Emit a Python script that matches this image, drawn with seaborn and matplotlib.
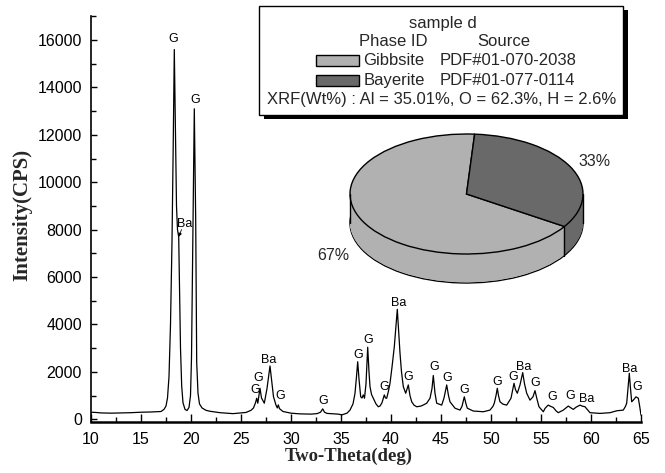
import numpy as np
import pandas as pd
import matplotlib
matplotlib.use("Agg")
import matplotlib.pyplot as plt
from matplotlib.patches import Rectangle
from matplotlib.ticker import MultipleLocator
import seaborn as sns

# Diffraction trace: 2-theta (deg) and intensity (counts per second)
two_theta = [
    10.0, 10.5, 11.0, 12.0, 13.0, 14.0, 15.0, 16.0, 17.0, 17.3, 17.5, 17.65,
    17.8, 17.95, 18.1, 18.22, 18.33, 18.43, 18.55, 18.65, 18.77, 18.85, 18.95,
    19.07, 19.2, 19.4, 19.6, 19.8, 19.95, 20.05, 20.17, 20.33, 20.47, 20.57,
    20.7, 20.85, 21.1, 21.5, 21.9, 22.9, 24.2, 25.5, 26.0, 26.25, 26.45, 26.57,
    26.68, 26.9, 27.05, 27.33, 27.6, 27.9, 28.1, 28.25, 28.5, 28.63, 28.73,
    28.85, 29.2, 30.0, 30.9, 32.0, 32.6, 32.95, 33.17, 33.35, 33.6, 34.7, 35.1,
    35.6, 35.9, 36.2, 36.4, 36.55, 36.67, 36.8, 36.97, 37.1, 37.23, 37.35, 37.5,
    37.67, 37.8, 37.9, 38.05, 38.23, 38.5, 38.73, 38.9, 39.1, 39.33, 39.45,
    39.57, 39.75, 39.9, 40.1, 40.33, 40.63, 40.75, 40.9, 41.05, 41.23, 41.47,
    41.73, 41.9, 42.07, 42.3, 42.57, 43.0, 43.3, 43.57, 43.9, 44.1, 44.23, 44.4,
    44.57, 45.07, 45.3, 45.57, 45.75, 45.9, 46.4, 46.9, 47.1, 47.33, 47.5, 47.63,
    48.23, 49.23, 49.9, 50.2, 50.33, 50.5, 50.63, 50.75, 50.9, 51.2, 51.57, 52.0,
    52.3, 52.45, 52.63, 52.9, 53.17, 53.35, 53.57, 53.9, 54.2, 54.4, 54.6, 54.8,
    55.23, 55.4, 55.6, 55.73, 55.9, 56.23, 56.5, 56.73, 57.23, 57.5, 57.73,
    58.0, 58.23, 58.5, 58.9, 59.1, 59.4, 59.9, 60.9, 61.9, 62.57, 63.23, 63.45,
    63.57, 63.7, 63.83, 63.95, 64.07, 64.23, 64.5, 64.73, 64.85, 65.0,
]
intensity = [
    300, 290, 270, 260, 270, 280, 300, 310, 330, 420, 560, 900,
    1800, 4000, 7500, 11500, 15600, 12600, 9000, 8000, 7700, 5500, 3000,
    1400, 700, 420, 370, 500, 1000, 2600, 7000, 13100, 8400, 2400,
    1100, 650, 480, 380, 340, 280, 240, 290, 380, 480, 700, 890,
    680, 1310, 900, 680, 1300, 2250, 1500, 950, 600, 480, 610,
    450, 330, 260, 230, 220, 240, 300, 440, 300, 250, 220, 190,
    260, 390, 650, 1100, 1800, 2430, 1700, 950, 900, 1030, 890, 1500,
    3040, 2000, 1380, 1050, 890, 650, 530, 560, 700, 1030, 900,
    890, 1200, 1520, 2200, 3060, 4640, 3800, 2790, 2000, 1380, 1100,
    1450, 1000, 740, 600, 530, 560, 620, 680, 890, 1300, 1850, 1100,
    680, 600, 900, 1450, 1000, 740, 470, 390, 550, 950, 650, 470,
    350, 320, 390, 550, 680, 1000, 1310, 1000, 740, 640, 600, 890,
    1520, 1250, 1100, 1450, 1970, 1500, 1100, 810, 950, 1210, 850, 530,
    320, 460, 550, 600, 560, 500, 360, 280, 390, 480, 560,
    480, 420, 510, 600, 560, 530, 280, 250, 280, 360, 390, 550,
    680, 1300, 1940, 1300, 740, 810, 950, 890, 600, 180,
]

# Phase markers above the reflections
label_theta = [18.25, 19.4, 20.4, 26.4, 26.73, 27.8, 28.9, 33.17, 36.67, 37.73,
               39.3, 40.73, 41.73, 44.33, 45.6, 47.3, 50.63, 52.17, 53.23,
               54.4, 56.07, 57.9, 59.57, 63.9, 64.63]
label_intensity = [16050, 8240, 13450, 1240, 1755, 2500, 985, 770, 2710, 3340,
                   1375, 4920, 1795, 2220, 1750, 1240, 1590, 1800, 2195,
                   1545, 955, 985, 845, 2110, 1375]
label_text = ["G", "Ba", "G", "G", "G", "Ba", "G", "G", "G", "G",
              "G", "Ba", "G", "G", "G", "G", "G", "G", "Ba",
              "G", "G", "G", "Ba", "Ba", "G"]
shoulder_theta, shoulder_intensity = 18.77, 7700

# Phase quantification
phases = ["Gibbsite", "Bayerite"]
sources = ["PDF#01-070-2038", "PDF#01-077-0114"]
phase_share = [67, 33]
phase_colors = ["#b1b1b1", "#696969"]
elements = ["Al", "O", "H"]
element_wt = [35.01, 62.3, 2.6]

sns.set_theme(style="ticks")
plt.rcParams["font.family"] = ["Liberation Sans", "DejaVu Sans"]

W, H = 665, 473
fig = plt.figure(figsize=(W / 100, H / 100), dpi=100)


def px_rect(x0, y0, x1, y1):
    """Pixel box (origin top-left) -> figure fraction rect."""
    return [x0 / W, 1 - y1 / H, (x1 - x0) / W, (y1 - y0) / H]


# ---- diffraction pattern ----
ax = fig.add_axes(px_rect(91, 16.3, 641, 421.7))
df = pd.DataFrame({"two_theta": two_theta, "intensity": intensity})
sns.lineplot(data=df, x="two_theta", y="intensity", ax=ax, color="black",
             linewidth=0.9, sort=False, estimator=None)
ax.set_xlim(10, 65)
ax.set_ylim(-100, 17000)
ax.set_xticks(np.arange(10, 66, 5))
ax.set_yticks(np.arange(0, 16001, 2000))
ax.xaxis.set_minor_locator(MultipleLocator(2.5))
ax.yaxis.set_minor_locator(MultipleLocator(1000))
ax.tick_params(which="both", direction="in", color="black", width=1.0,
               labelsize=11.5, labelcolor="black")
ax.tick_params(axis="x", which="major", length=5.5, pad=7.2)
ax.tick_params(axis="x", which="minor", length=3.5)
ax.tick_params(axis="y", which="major", length=4.5, pad=6.5)
ax.tick_params(axis="y", which="minor", length=3.5)
sns.despine(ax=ax)
for side in ("left", "bottom"):
    ax.spines[side].set_color("black")
    ax.spines[side].set_linewidth(1.2)
ax.spines["bottom"].set_linewidth(1.8)
ax.set_xlabel("")
ax.set_ylabel("")

for x, y, t in zip(label_theta, label_intensity, label_text):
    ax.text(x, y, t, ha="center", va="center", fontsize=9, color="black")
ax.annotate("", xy=(shoulder_theta, shoulder_intensity), xytext=(19.05, 8000),
            arrowprops=dict(arrowstyle="-|>", color="black", lw=0.6,
                            mutation_scale=5, shrinkA=0, shrinkB=0))

fig.text(349 / W, 1 - 460.5 / H, "Two-Theta(deg)", ha="center", va="baseline",
         fontsize=13.5, fontweight="bold", family="Liberation Serif")
fig.text(22 / W, 1 - 215 / H, "Intensity(CPS)", ha="center", va="center",
         rotation=90, fontsize=15, fontweight="bold", family="Liberation Serif")

# ---- legend box ----
ov = fig.add_axes([0, 0, 1, 1])
ov.set_xlim(0, W)
ov.set_ylim(H, 0)
ov.axis("off")
ov.add_patch(Rectangle((263.5, 10), 364.5, 109, facecolor="black", edgecolor="none"))
ov.add_patch(Rectangle((259.3, 6), 364, 109, facecolor="white", edgecolor="black", lw=1))
fs = 12
ov.text(443.3, 23.3, "sample d", ha="center", va="center", fontsize=fs)
ov.text(393, 41.7, "Phase ID", ha="center", va="center", fontsize=fs)
ov.text(504, 41.7, "Source", ha="center", va="center", fontsize=fs)
for i, (name, src, col) in enumerate(zip(phases, sources, phase_colors)):
    yc = 60.3 + 20 * i
    ov.add_patch(Rectangle((316, yc - 5.3), 43.3, 10.7, facecolor=col,
                           edgecolor="black", lw=1))
    ov.text(363.3, yc, name, ha="left", va="center", fontsize=fs)
    ov.text(439.3, yc, src, ha="left", va="center", fontsize=fs)
xrf = "XRF(Wt%) : " + ", ".join(f"{e} = {v:g}%" for e, v in zip(elements, element_wt))
ov.text(441.3, 99.3, xrf, ha="center", va="center", fontsize=fs)

# ---- 3D pie of phase fractions ----
cx, cy, a, b, depth = 466.5, 194.0, 116.5, 60.0, 29.0
m = 0.05
d = depth / b
pax = fig.add_axes(px_rect(cx - (1 + m) * a, cy - (1 + m) * b,
                           cx + (1 + m) * a, cy + (1 + m + d) * b))
start = 86
pax.pie(phase_share, colors=phase_colors, startangle=start, counterclock=True,
        center=(0, -d), wedgeprops=dict(edgecolor="black", linewidth=1.0))
for off in np.linspace(-d + 0.01, -0.01, 60):
    pax.pie(phase_share, colors=phase_colors, startangle=start, counterclock=True,
            center=(0, off), wedgeprops=dict(edgecolor="none", linewidth=0))
pax.pie(phase_share, colors=phase_colors, startangle=start, counterclock=True,
        center=(0, 0), wedgeprops=dict(edgecolor="black", linewidth=1.0))
front = np.deg2rad(start + 360 * phase_share[0] / sum(phase_share))
for xe, ye in [(-1, 0), (1, 0), (np.cos(front), np.sin(front))]:
    pax.plot([xe, xe], [ye, ye - d], color="black", lw=1.0)
pax.set_aspect("auto")
pax.set_xlim(-1 - m, 1 + m)
pax.set_ylim(-1 - m - d, 1 + m)
pax.axis("off")
pax.text(1.103, 0.538, f"{phase_share[1]}%", ha="center", va="center", fontsize=11.5)
pax.text(-1.143, -1.033, f"{phase_share[0]}%", ha="center", va="center", fontsize=11.5)

fig.savefig("out.png", dpi=100)
